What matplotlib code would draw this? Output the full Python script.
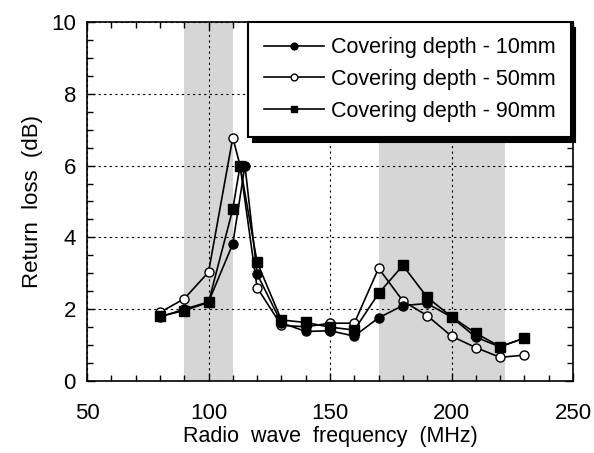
import matplotlib
matplotlib.use("Agg")
import matplotlib.pyplot as plt
from matplotlib.ticker import MultipleLocator

plt.rcParams['font.family'] = ['Liberation Sans', 'DejaVu Sans']

# frequency (MHz) and return loss (dB) per covering depth
freq_10 = [80, 90, 100, 110, 115, 120, 130, 140, 150, 160, 170, 180, 190, 200, 210, 220, 230]
loss_10 = [1.78, 2.0, 2.2, 3.82, 6.0, 2.98, 1.62, 1.38, 1.40, 1.25, 1.76, 2.10, 2.16, 1.78, 1.22, 0.95, 1.20]

freq_50 = [80, 90, 100, 110, 113, 120, 130, 140, 150, 160, 170, 180, 190, 200, 210, 220, 230]
loss_50 = [1.91, 2.29, 3.03, 6.78, 6.0, 2.60, 1.55, 1.51, 1.61, 1.61, 3.14, 2.23, 1.82, 1.25, 0.93, 0.66, 0.72]

freq_90 = [80, 90, 100, 110, 113, 120, 130, 140, 150, 160, 170, 180, 190, 200, 210, 220, 230]
loss_90 = [1.80, 1.96, 2.19, 4.79, 6.0, 3.31, 1.70, 1.63, 1.50, 1.42, 2.44, 3.22, 2.33, 1.79, 1.33, 0.96, 1.19]

bands = [(90, 110), (170, 222)]
labels = ["Covering depth - 10mm", "Covering depth - 50mm", "Covering depth - 90mm"]

fig = plt.figure(figsize=(5.94, 4.53), dpi=100)
ax = fig.add_axes([87 / 594, 1 - 381 / 453, 486 / 594, 359 / 453])

for lo, hi in bands:
    ax.axvspan(lo, hi, color="#d6d6d6", lw=0, zorder=0)

ax.grid(which="major", color="k", ls=(0, (2, 3)), lw=0.8, zorder=1)

l50, = ax.plot(freq_50, loss_50, "-o", color="k", mfc="white", mec="k", ms=6.5, lw=1.2, zorder=3)
l90, = ax.plot(freq_90, loss_90, "-s", color="k", mfc="k", ms=6.5, lw=1.2, zorder=4)
l10, = ax.plot(freq_10, loss_10, "-o", color="k", mfc="k", ms=6.5, lw=1.2, zorder=5)

ax.set_xlim(50, 250); ax.set_ylim(0, 10)
ax.xaxis.set_major_locator(MultipleLocator(50)); ax.xaxis.set_minor_locator(MultipleLocator(10))
ax.yaxis.set_major_locator(MultipleLocator(2)); ax.yaxis.set_minor_locator(MultipleLocator(0.5))
ax.tick_params(which="both", direction="in", top=True, right=True, labelsize=16, width=1)
ax.tick_params(which="major", length=6)
ax.tick_params(which="minor", length=4)
ax.tick_params(axis="x", which="major", pad=16)
ax.tick_params(axis="y", which="major", pad=8)
for s in ax.spines.values():
    s.set_linewidth(1.2)

ax.set_xlabel("Radio  wave  frequency  (MHz)", fontsize=15.5, labelpad=1)
ax.set_ylabel("Return  loss  (dB)", fontsize=16, labelpad=6)

leg = ax.legend([l10, l50, l90], labels, loc="upper right", bbox_to_anchor=(0.996, 1.0),
                borderaxespad=0, fontsize=15.5, frameon=True, fancybox=False, handlelength=2.8,
                borderpad=0.7, labelspacing=0.5, handletextpad=0.35, markerscale=0.75,
                shadow={"color": "k", "alpha": 1, "ox": 3, "oy": -4})
leg.get_frame().set_edgecolor("k")
leg.get_frame().set_linewidth(1.5)
leg.get_frame().set_alpha(1)
leg.set_zorder(10)

fig.savefig("out.png", dpi=100)
